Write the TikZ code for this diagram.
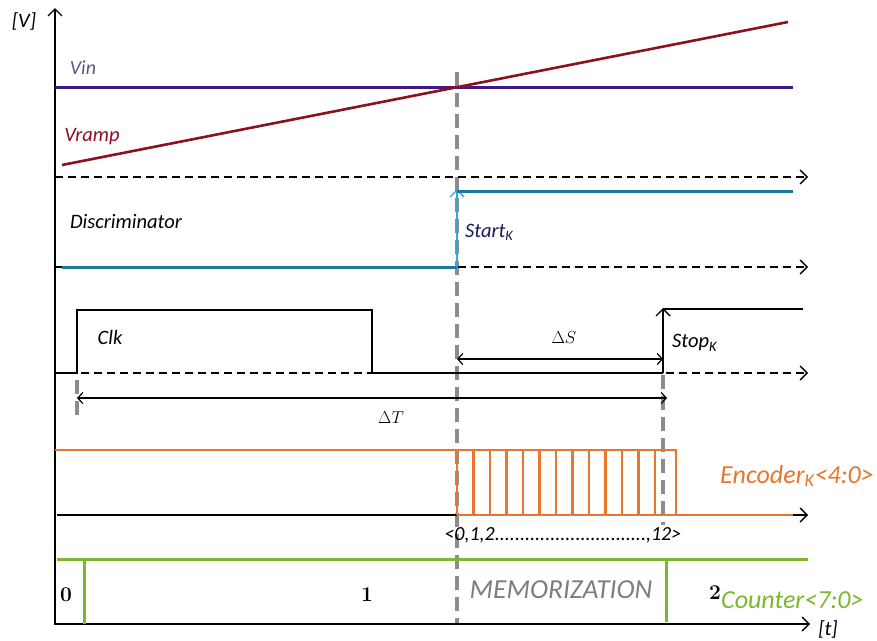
\documentclass[tikz,border=0pt]{standalone}
\usepackage{fontspec}
\usepackage{tikz}
\usetikzlibrary{arrows.meta}
\newfontfamily\calibri{Carlito}
\definecolor{vinPurple}{HTML}{3D1A85}
\definecolor{vinText}{HTML}{5A5A80}
\definecolor{rampRed}{HTML}{8B1020}
\definecolor{discTeal}{HTML}{1B7A99}
\definecolor{startCyan}{HTML}{35A7D6}
\definecolor{startText}{HTML}{1A1A5A}
\definecolor{encOrange}{HTML}{E8762C}
\definecolor{cntGreen}{HTML}{7CB82F}
\definecolor{guideGray}{HTML}{8C8C8C}

\begin{document}
\begin{tikzpicture}[
    x=1pt, y=-1pt,
    openTip/.style={-{Straight Barb[length=7pt,width=14pt,line width=1.4pt]}},
    axisLine/.style={openTip, black, line width=1.6pt},
    baseDash/.style={openTip, black, line width=1.5pt, dash pattern=on 8pt off 5pt},
    guideLine/.style={guideGray, line width=3.4pt, dash pattern=on 14pt off 7pt},
    vinLine/.style={vinPurple, line width=3pt},
    rampLine/.style={rampRed, line width=2.6pt},
    discLine/.style={discTeal, line width=3pt},
    clkLine/.style={black, line width=2.6pt},
    encLine/.style={encOrange, line width=2.2pt},
    cntLine/.style={cntGreen, line width=3pt},
    dimArrow/.style={{Straight Barb[length=5pt,width=11pt]}-{Straight Barb[length=5pt,width=11pt]}, black, line width=1.2pt},
    sigLabel/.style={font=\calibri\itshape\fontsize{20.5}{23}\selectfont, inner sep=0pt},
    digitLabel/.style={font=\bfseries\fontsize{21}{23}\selectfont, inner sep=0pt}
]
    \useasboundingbox (0,0) rectangle (877,640);

    % Guide lines
    \draw[guideLine] (457,72) -- (457,625);
    \draw[guideLine] (77,380) -- (77,420);
    \draw[guideLine] (663,375) -- (663,525);

    % Axes
    \draw[axisLine] (55,625) -- (55,8);
    \draw[axisLine] (55,624) -- (810,624);
    \node[sigLabel] (vAxis) at (24,21) {[V]};
    \node[sigLabel] (tAxis) at (828,629) {[t]};

    % Vin and Vramp
    \draw[vinLine] (55,87) -- (793,87);
    \draw[rampLine] (62,165) -- (788,22);
    \node[sigLabel, text=vinText, font=\calibri\itshape\fontsize{20}{22}\selectfont] (vinLbl) at (83,68) {Vin};
    \node[sigLabel, text=rampRed] (rampLbl) at (92,137) {Vramp};

    % Discriminator
    \draw[baseDash] (55,177) -- (808,177);
    \draw[baseDash] (55,267) -- (808,267);
    \draw[discLine] (62,267) -- (457,267);
    \draw[openTip, startCyan, line width=2.8pt] (457,267) -- (457,189);
    \draw[discLine] (457,191) -- (793,191);
    \node[sigLabel] (discLbl) at (126,222) {Discriminator};
    \node[sigLabel, text=startText, anchor=west] (startLbl) at (465,232) {Start\textsubscript{K}};

    % Clock
    \draw[baseDash] (55,373) -- (808,373);
    \draw[clkLine] (55,373) -- (77,373) -- (77,310) -- (372,310) -- (372,373) -- (663,373);
    \draw[openTip, clkLine] (663,373) -- (663,308);
    \draw[clkLine] (663,309) -- (803,309);
    \node[sigLabel] (clkLbl) at (110,337) {Clk};
    \node[sigLabel, anchor=west] (stopLbl) at (672,343) {Stop\textsubscript{K}};
    \draw[dimArrow] (457,359) -- (663,359);
    \node[inner sep=0pt, font=\fontsize{19}{21}\selectfont] (dsLbl) at (564,338) {$\Delta S$};
    \draw[dimArrow] (77,398) -- (667,398);
    \node[inner sep=0pt, font=\fontsize{19}{21}\selectfont] (dtLbl) at (391,418) {$\Delta T$};

    % Encoder
    \draw[axisLine, line width=1.4pt] (57,515) -- (808,515);
    \draw[encLine] (55,450) -- (676,450) -- (676,515);
    \foreach \k in {0,...,12}
        \draw[encLine] ({457+16.5*\k},450) -- ++(0,65);
    \draw[encLine] (457,515) -- (793,515);
    \node[sigLabel, text=encOrange, font=\calibri\itshape\fontsize{26}{28}\selectfont] (encLbl) at (797,476) {Encoder\textsubscript{K}<4:0>};
    \node[sigLabel, font=\calibri\itshape\fontsize{20}{22}\selectfont] (codeLbl) at (563,535) {<0,1,2..............................,12>};

    % Counter
    \draw[cntLine] (57,559) -- (808,559);
    \draw[cntLine] (84,559) -- (84,624);
    \draw[cntLine] (666,559) -- (666,622);
    \node[digitLabel] (cnt0) at (66,595) {0};
    \node[digitLabel] (cnt1) at (367,595) {1};
    \node[digitLabel] (cnt2) at (715,593) {2};
    \node[sigLabel, text=cntGreen, font=\calibri\itshape\fontsize{26}{28}\selectfont, anchor=west] (cntLbl) at (721,600) {Counter<7:0>};
    \node[sigLabel, text=guideGray!90!black, font=\calibri\itshape\fontsize{27.5}{30}\selectfont] (memLbl) at (561,590) {MEMORIZATION};
\end{tikzpicture}
\end{document}
